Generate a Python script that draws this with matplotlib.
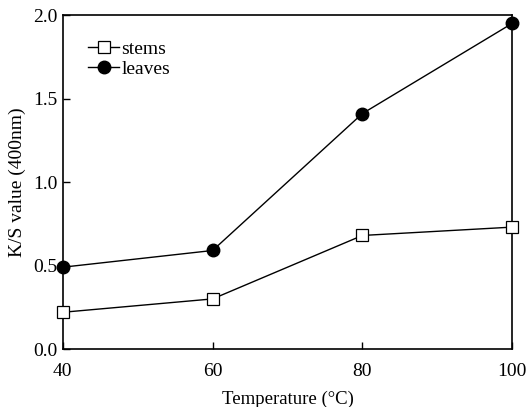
import matplotlib.pyplot as plt

# K/S value measured at 400 nm vs dyeing temperature
temperature = [40, 60, 80, 100]
stems = [0.22, 0.30, 0.68, 0.73]
leaves = [0.49, 0.59, 1.41, 1.95]

plt.rcParams['font.family'] = ['Liberation Serif', 'DejaVu Serif']

fig = plt.figure(figsize=(5.28, 4.07), dpi=100)
ax = fig.add_axes([0.119, 0.1425, 0.851, 0.8205])

ax.plot(temperature, stems, color='black', lw=1.0, marker='s', ms=8,
        mfc='white', mec='black', mew=0.9, label='stems', clip_on=False, zorder=3)
ax.plot(temperature, leaves, color='black', lw=1.0, marker='o', ms=9,
        mfc='black', mec='black', label='leaves', clip_on=False, zorder=3)

ax.set_xlim(40, 100)
ax.set_ylim(0.0, 2.0)
ax.set_xticks([40, 60, 80, 100])
ax.set_yticks([0.0, 0.5, 1.0, 1.5, 2.0])
ax.yaxis.set_major_formatter(plt.FormatStrFormatter('%.1f'))
ax.tick_params(direction='in', length=5, width=1, labelsize=14, pad=4)
ax.tick_params(axis='x', pad=10)

for sp in ax.spines.values():
    sp.set_linewidth(1.2)

ax.set_xlabel('Temperature (\u00b0C)', fontsize=13.5, labelpad=8)
ax.set_ylabel('K/S value (400nm)', fontsize=14, labelpad=5)

ax.legend(loc='upper left', frameon=False, fontsize=14, handlelength=1.6,
          handletextpad=0.1, labelspacing=0.1, borderaxespad=0.9)

fig.savefig('out.png', dpi=100)
